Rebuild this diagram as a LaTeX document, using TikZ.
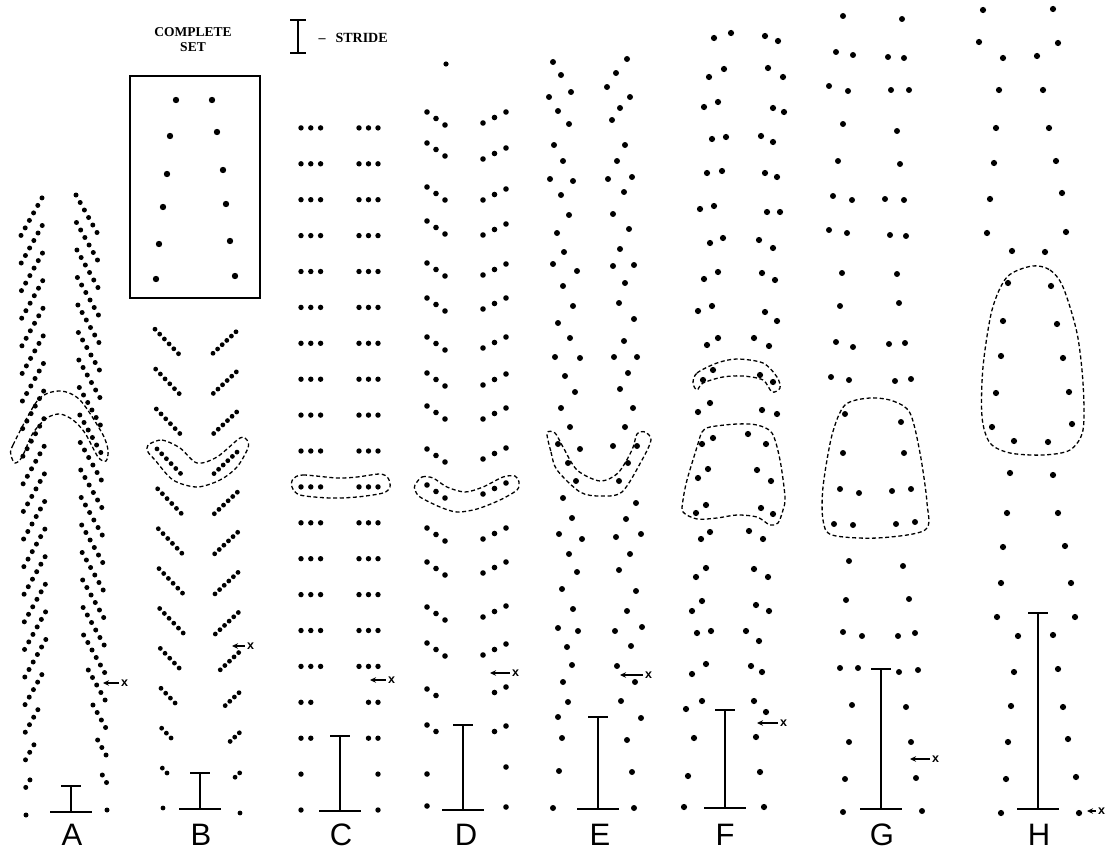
\documentclass[tikz,border=0pt]{standalone}
\usepackage{fontspec}
\setmainfont{Liberation Serif}
\setsansfont{Liberation Sans}
\usetikzlibrary{arrows.meta}

% stride bar: x, top y, bottom y
\newcommand{\stridebar}[3]{%
  \draw[line width=1.6pt] (#1,#2) -- (#1,#3);
  \draw[line width=2.2pt] ({#1-10},#2) -- ({#1+10},#2);
  \draw[line width=2.6pt] ({#1-21},#3) -- ({#1+21},#3);}

\begin{document}
\begin{tikzpicture}[x=1pt,y=-1pt,
    panel/.style={font=\sffamily\fontsize{31}{31}\selectfont, anchor=base, inner sep=0pt},
    xmark/.style={font=\sffamily\bfseries\fontsize{12.5}{12.5}\selectfont, anchor=west, inner sep=2pt},
    xarrow/.style={-{Stealth[length=6pt,width=5.5pt]}, line width=1.1pt},
    outline/.style={line width=1.3pt, dash pattern=on 4pt off 2.6pt}]

  \useasboundingbox (0,0) rectangle (1107,851);

  % --------------------------------------------------------- %
  % ------------- legend
  % --------------------------------------------------------- %
  \node[align=center, font=\bfseries\fontsize{13.5}{15}\selectfont] (settext) at (193,40) {COMPLETE\\SET};
  \node[draw, line width=1.4pt, minimum width=130pt, minimum height=222pt, inner sep=0pt] (setbox) at (195,187) {};
  \foreach \x/\y in {176/100,170/136,167/174,163/207,159/244,156/279,
                     212/100,217/132,223/170,226/204,230/241,235/276}
    \fill (\x,\y) circle (3.2pt);
  \draw[line width=1.3pt] (298,20) -- (298,53);
  \draw[line width=1.3pt] (290,20) -- (306,20);
  \draw[line width=1.3pt] (290,53) -- (306,53);
  \node[anchor=west, font=\bfseries\fontsize{14}{15}\selectfont] (stridetext) at (315,38) {--\hspace{10pt}STRIDE};

  % --------------------------------------------------------- %
  % ------------- A
  % --------------------------------------------------------- %
  \foreach \k in {0,...,21} {
    \pgfmathtruncatemacro{\n}{min(\k,5)}
    \foreach \i in {0,...,\n} {
      \fill ({26-5*\k/21+4.2*\i},{815-27.6*\k-7.5*\i}) circle (2.5pt);
      \fill ({107-10*\k/21-4.2*\i},{810-27.5*\k-7.5*\i}) circle (2.5pt);
    }
  }
  \draw[outline] plot[smooth cycle] coordinates {(11,455) (13,445) (38,400) (60,391) (80,400) (102,433) (108,450) (106,461) (98,457) (85,433) (73,420) (60,414) (47,418) (33,433) (22,457) (15,463)};
  \stridebar{71}{786}{812}
  \node[panel] (labA) at (72,845) {A};
  \coordinate (tipA) at (103,683);
  \node[xmark] (xA) at (119,683) {x};
  \draw[xarrow] (xA.west) -- (tipA);

  % --------------------------------------------------------- %
  % ------------- B
  % --------------------------------------------------------- %
  \foreach \k in {0,...,12} {
    \pgfmathtruncatemacro{\n}{min(\k,5)}
    \foreach \i in {0,...,\n} {
      \fill ({163-8*\k/12+4.7*\i},{808-39.9*\k+4.9*\i}) circle (2.4pt);
      \fill ({240-4*\k/12-4.6*\i},{813-40.1*\k+4.3*\i}) circle (2.4pt);
    }
  }
  \draw[outline] plot[smooth cycle] coordinates {(148,445) (162,440) (180,448) (197,463) (217,457) (240,438) (247,440) (248,448) (237,467) (220,480) (197,487) (173,480) (155,460) (148,452)};
  \stridebar{200}{773}{809}
  \node[panel] (labB) at (201,845) {B};
  \coordinate (tipB) at (232,646);
  \node[xmark] (xB) at (245,646) {x};
  \draw[xarrow] (xB.west) -- (tipB);

  % --------------------------------------------------------- %
  % ------------- C
  % --------------------------------------------------------- %
  \foreach \k in {0,...,19} {
    \pgfmathtruncatemacro{\n}{min(int(\k/2),2)}
    \foreach \i in {0,...,\n} {
      \fill ({301+9.8*\i},{810-35.9*\k}) circle (2.7pt);
      \fill ({378-9.5*\i},{810-35.9*\k}) circle (2.7pt);
    }
  }
  \draw[outline] plot[smooth cycle] coordinates {(293,479) (303,475) (337,478) (357,477) (380,474) (388,478) (390,487) (383,493) (357,497) (330,498) (300,495) (292,487)};
  \stridebar{340}{736}{811}
  \node[panel] (labC) at (341,845) {C};
  \coordinate (tipC) at (370,680);
  \node[xmark] (xC) at (386,680) {x};
  \draw[xarrow] (xC.west) -- (tipC);

  % --------------------------------------------------------- %
  % ------------- D
  % --------------------------------------------------------- %
  \fill (446,64) circle (2.6pt);
  \foreach \y/\n in {806/0,774/0,725/1,689/1,643/2,607/2,562/2,528/2,485/2,449/2,
                     406/2,373/2,337/2,298/2,263/2,221/2,187/2,143/2,112/2}
    \foreach \i in {0,...,\n}
      \fill ({427+9*\i},{\y+6.5*\i}) circle (2.8pt);
  \foreach \y/\n in {807/0,767/0,726/1,687/1,644/2,606/2,562/2,528/2,483/2,448/2,
                     408/2,374/2,337/2,298/2,264/2,224/2,189/2,148/2,112/2}
    \foreach \i in {0,...,\n}
      \fill ({506-11.5*\i},{\y+5.5*\i}) circle (2.8pt);
  \draw[outline] plot[smooth cycle] coordinates {(415,485) (422,477) (433,478) (447,487) (465,492) (483,487) (503,477) (515,476) (519,482) (517,490) (500,500) (477,509) (457,512) (440,507) (420,497) (415,490)};
  \stridebar{463}{725}{810}
  \node[panel] (labD) at (466,845) {D};
  \coordinate (tipD) at (490,673);
  \node[xmark] (xD) at (510,673) {x};
  \draw[xarrow] (xD.west) -- (tipD);

  % --------------------------------------------------------- %
  % ------------- E
  % --------------------------------------------------------- %
  \foreach \x/\y in {553/62,561/75,549/97,571/92,558/111,569/124,554/145,563/161,550/179,573/181,
                     561/195,569/215,557/233,564/252,553/264,577/271,563/286,573/306,558/323,570/338,
                     555/357,580/358,565/376,575/392,561/408,570/427,558/444,580/449,568/463,576/481,
                     563/498,572/518,559/534,582/539,569/554,577/572,562/589,573/609,558/628,578/631,
                     567/647,572/665,563/682,568/702,558/717,562/738,559/771,553/808,
                     627/59,616/73,607/87,630/97,620/108,612/120,625/145,617/161,608/179,632/177,
                     624/192,613/214,629/229,620/249,613/266,634/265,625/283,619/303,634/319,624/341,
                     614/357,637/357,628/373,620/389,633/408,625/427,613/446,637/446,628/463,619/481,
                     636/503,626/519,616/537,641/534,630/554,619/570,636/591,627/611,615/631,642/627,
                     631/646,617/666,635/682,621/701,641/718,627/740,632/772,634/808}
    \fill (\x,\y) circle (3pt);
  \draw[outline] plot[smooth cycle] coordinates {(547,433) (551,452) (557,470) (580,492) (600,496) (622,492) (642,460) (651,440) (645,432) (637,434) (632,450) (618,473) (600,481) (577,470) (563,447) (555,433)};
  \stridebar{598}{717}{809}
  \node[panel] (labE) at (600,845) {E};
  \coordinate (tipE) at (620,675);
  \node[xmark] (xE) at (643,675) {x};
  \draw[xarrow] (xE.west) -- (tipE);

  % --------------------------------------------------------- %
  % ------------- F
  % --------------------------------------------------------- %
  \foreach \x/\y in {714/38,731/33,709/77,724/69,704/107,718/102,712/139,726/137,707/173,722/171,
                     700/209,714/206,710/243,723/238,704/279,718/272,698/311,712/306,707/345,718/338,
                     703/380,713/370,698/412,710/403,702/444,713/438,708/469,698/478,706/505,696/513,
                     710/532,701/539,706/568,696/577,702/601,692/611,711/631,697/633,706/664,692/674,
                     702/701,686/709,694/738,688/776,684/807,
                     765/36,778/41,768/68,783/77,773/108,784/112,761/136,773/142,765/173,777/177,
                     767/212,780/212,759/240,773/248,762/273,775/280,765/312,777/321,754/338,769/346,
                     760/375,773/382,762/410,777/414,748/434,766/444,757/470,771/481,761/508,773/514,
                     749/531,763/539,754/569,768/577,756/605,769/611,746/631,759/641,751/666,762/672,
                     754/701,766/712,756/737,760/772,764/807}
    \fill (\x,\y) circle (3.1pt);
  \draw[outline] plot[smooth cycle] coordinates {(693,383) (697,373) (717,363) (737,359) (763,363) (777,377) (780,388) (772,392) (763,380) (743,376) (723,377) (703,383) (697,390)};
  \draw[outline] plot[smooth cycle] coordinates {(697,447) (702,432) (710,427) (737,424) (757,425) (772,433) (780,460) (785,497) (783,510) (778,523) (770,525) (757,517) (737,515) (717,518) (697,519) (683,512) (683,500) (687,480)};
  \stridebar{725}{710}{808}
  \node[panel] (labF) at (725,845) {F};
  \coordinate (tipF) at (757,723);
  \node[xmark] (xF) at (778,723) {x};
  \draw[xarrow] (xF.west) -- (tipF);

  % --------------------------------------------------------- %
  % ------------- G
  % --------------------------------------------------------- %
  \foreach \x/\y in {843/16,836/52,853/55,829/86,848/91,843/124,838/161,833/196,852/200,829/230,
                     847/233,842/273,840/306,836/342,853/347,831/377,849/380,845/414,843/453,840/489,
                     859/493,834/524,853/525,849/561,846/600,843/632,862/636,840/668,858/668,852/705,
                     849/742,845/779,843/812,
                     902/19,888/57,904/58,891/90,909/90,897/131,900/164,885/199,904/200,890/235,
                     906/236,897/274,899/303,889/344,905/343,895/381,911/379,901/422,904/453,892/491,
                     911/489,896/524,915/522,903/566,909/599,898/636,915/633,899/672,918/670,906/707,
                     911/742,916/778,922/811}
    \fill (\x,\y) circle (3pt);
  \draw[outline] plot[smooth cycle] coordinates {(870,398) (893,401) (910,413) (920,453) (927,503) (925,530) (877,538) (832,535) (823,520) (823,487) (832,435) (845,405)};
  \stridebar{881}{669}{809}
  \node[panel] (labG) at (882,845) {G};
  \coordinate (tipG) at (910,759);
  \node[xmark] (xG) at (930,759) {x};
  \draw[xarrow] (xG.west) -- (tipG);

  % --------------------------------------------------------- %
  % ------------- H
  % --------------------------------------------------------- %
  \foreach \x/\y in {983/10,979/42,1003/58,999/90,996/128,994/163,990/199,987/233,1012/251,1008/283,
                     1003/321,1001/356,996/393,992/427,1014/441,1010/473,1007/513,1003/547,1001/583,997/617,
                     1018/636,1014/672,1011/706,1008/742,1006/779,1001/813,
                     1053/9,1058/43,1037/56,1043/90,1049/128,1056/161,1062/193,1066/232,1045/252,1051/286,
                     1057/324,1063/358,1069/392,1072/424,1048/442,1053/475,1058/513,1065/546,1071/583,1075/617,
                     1053/635,1058/669,1063/707,1068/739,1076/777,1079/813}
    \fill (\x,\y) circle (3.1pt);
  \draw[outline] plot[smooth cycle] coordinates {(1032,266) (1050,270) (1063,287) (1077,333) (1083,383) (1083,430) (1070,450) (1043,455) (1010,453) (990,443) (982,417) (983,367) (992,310) (1007,277)};
  \stridebar{1038}{613}{809}
  \node[panel] (labH) at (1039,845) {H};
  \coordinate (tipH) at (1087,811);
  \node[xmark] (xH) at (1096,811) {x};
  \draw[xarrow] (xH.west) -- (tipH);

\end{tikzpicture}
\end{document}
